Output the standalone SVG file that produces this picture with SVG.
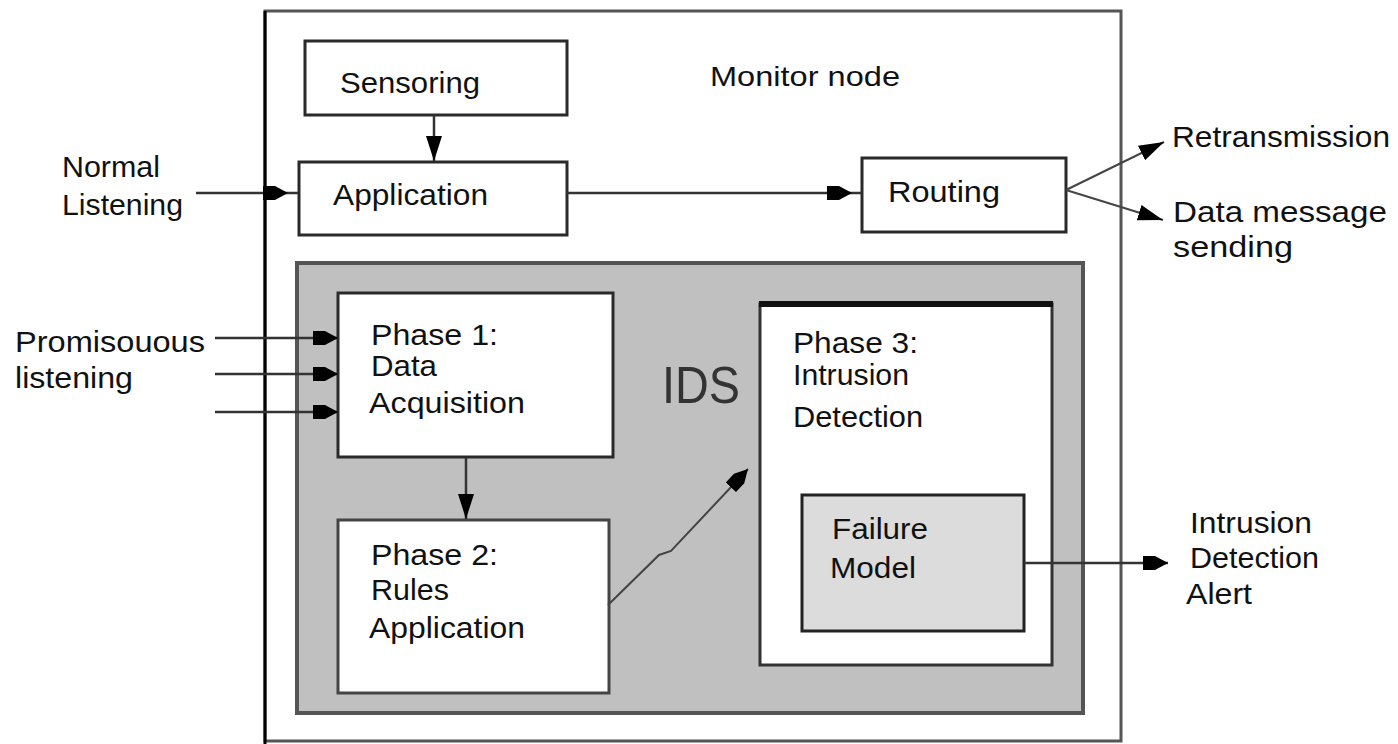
<svg xmlns="http://www.w3.org/2000/svg" width="1398" height="744" viewBox="0 0 1398 744">
<defs>
<style>
text{font-family:"Liberation Sans",Arial,sans-serif;font-size:30px;fill:#111;}
text.mon{font-size:28px;}
text.ids{font-size:52px;fill:#333;}
.box{fill:#fff;stroke:#2a2a2a;stroke-width:3;}
.conn{fill:none;stroke:#333;stroke-width:2.5;}
.thin{fill:none;stroke:#444;stroke-width:2;}
</style>
<marker id="ah" markerUnits="userSpaceOnUse" viewBox="0 -10 26 20" refX="25" refY="0" markerWidth="26" markerHeight="20" orient="auto">
<path d="M0,-7 L12,-7 L25,0 L12,7 L0,7 Z" fill="#000"/>
</marker>
<marker id="ahg" markerUnits="userSpaceOnUse" viewBox="0 -10 36 20" refX="35" refY="0" markerWidth="36" markerHeight="20" orient="auto">
<path d="M0,-7 L12,-7 L25,0 L12,7 L0,7 Z" fill="#000"/>
</marker>
<marker id="tri" markerUnits="userSpaceOnUse" viewBox="0 -10 26 20" refX="25" refY="0" markerWidth="26" markerHeight="20" orient="auto">
<path d="M0,-8 L25,0 L0,8 Z" fill="#000"/>
</marker>
</defs>
<rect width="1398" height="744" fill="#fff"/>

<g id="monitor-node">
<rect x="265" y="11" width="856" height="730" fill="#fff" stroke="#555" stroke-width="3"/>
<line x1="265" y1="11" x2="265" y2="744" stroke="#000" stroke-width="3"/>
<text class="mon" x="710" y="86" textLength="190" lengthAdjust="spacingAndGlyphs">Monitor node</text>
</g>

<g id="sensoring">
<rect class="box" x="305" y="41" width="262" height="74"/>
<text x="340" y="93" textLength="140" lengthAdjust="spacingAndGlyphs">Sensoring</text>
</g>

<g id="application">
<rect class="box" x="299" y="162" width="268" height="73"/>
<text x="333" y="205" textLength="155" lengthAdjust="spacingAndGlyphs">Application</text>
</g>

<g id="routing">
<rect class="box" x="862" y="158" width="204" height="74"/>
<text x="888" y="202" textLength="112" lengthAdjust="spacingAndGlyphs">Routing</text>
</g>

<g id="ids">
<rect x="297" y="263" width="786" height="450" fill="#c0c0c0" stroke="#555" stroke-width="4"/>
<text class="ids" x="662" y="403" textLength="78" lengthAdjust="spacingAndGlyphs">IDS</text>
</g>

<g id="phase1">
<rect class="box" x="338" y="293" width="275" height="164"/>
<text x="371" y="345" textLength="127" lengthAdjust="spacingAndGlyphs">Phase 1:</text>
<text x="371" y="376" textLength="66" lengthAdjust="spacingAndGlyphs">Data</text>
<text x="369" y="413" textLength="156" lengthAdjust="spacingAndGlyphs">Acquisition</text>
</g>

<g id="phase2">
<rect x="338" y="520" width="271" height="173" fill="#fff" stroke="#444" stroke-width="3"/>
<text x="371" y="565" textLength="127" lengthAdjust="spacingAndGlyphs">Phase 2:</text>
<text x="371" y="600" textLength="78" lengthAdjust="spacingAndGlyphs">Rules</text>
<text x="369" y="638" textLength="156" lengthAdjust="spacingAndGlyphs">Application</text>
</g>

<g id="phase3">
<rect x="760" y="304" width="292" height="361" fill="#fff" stroke="#333" stroke-width="3"/>
<line x1="759" y1="304" x2="1053" y2="304" stroke="#111" stroke-width="6"/>
<text x="793" y="353" textLength="125" lengthAdjust="spacingAndGlyphs">Phase 3:</text>
<text x="793" y="385" textLength="116" lengthAdjust="spacingAndGlyphs">Intrusion</text>
<text x="793" y="427" textLength="130" lengthAdjust="spacingAndGlyphs">Detection</text>
</g>

<g id="failure-model">
<rect x="802" y="495" width="222" height="136" fill="#dcdcdc" stroke="#222" stroke-width="3"/>
<text x="832" y="539" textLength="96" lengthAdjust="spacingAndGlyphs">Failure</text>
<text x="830" y="578" textLength="86" lengthAdjust="spacingAndGlyphs">Model</text>
</g>

<g id="labels">
<text x="62" y="177" textLength="98" lengthAdjust="spacingAndGlyphs">Normal</text>
<text x="62" y="215" textLength="121" lengthAdjust="spacingAndGlyphs">Listening</text>
<text x="1172" y="147" textLength="218" lengthAdjust="spacingAndGlyphs">Retransmission</text>
<text x="1173" y="222" textLength="214" lengthAdjust="spacingAndGlyphs">Data message</text>
<text x="1173" y="257" textLength="120" lengthAdjust="spacingAndGlyphs">sending</text>
<text x="15" y="352" textLength="190" lengthAdjust="spacingAndGlyphs">Promisouous</text>
<text x="15" y="388" textLength="118" lengthAdjust="spacingAndGlyphs">listening</text>
<text x="1190" y="533" textLength="122" lengthAdjust="spacingAndGlyphs">Intrusion</text>
<text x="1190" y="568" textLength="129" lengthAdjust="spacingAndGlyphs">Detection</text>
<text x="1186" y="604" textLength="66" lengthAdjust="spacingAndGlyphs">Alert</text>
</g>

<g id="connectors">
<line class="conn" x1="434" y1="115" x2="434" y2="161" marker-end="url(#tri)"/>
<line class="conn" x1="196" y1="193" x2="298" y2="193" marker-end="url(#ahg)"/>
<line class="conn" x1="567" y1="193" x2="862" y2="193" marker-end="url(#ahg)"/>
<line class="thin" x1="1066" y1="190" x2="1164" y2="142" marker-end="url(#tri)"/>
<line class="thin" x1="1066" y1="190" x2="1163" y2="220" marker-end="url(#tri)"/>
<line class="conn" x1="215" y1="338" x2="338" y2="338" marker-end="url(#ah)"/>
<line class="conn" x1="215" y1="374" x2="338" y2="374" marker-end="url(#ah)"/>
<line class="conn" x1="215" y1="412" x2="338" y2="412" marker-end="url(#ah)"/>
<line class="conn" x1="466" y1="458" x2="466" y2="519" marker-end="url(#tri)"/>
<polyline class="thin" points="608,605 659,555 671,551 748,469" marker-end="url(#ah)"/>
<line class="conn" x1="1024" y1="563" x2="1168" y2="563" marker-end="url(#ah)"/>
</g>
</svg>
